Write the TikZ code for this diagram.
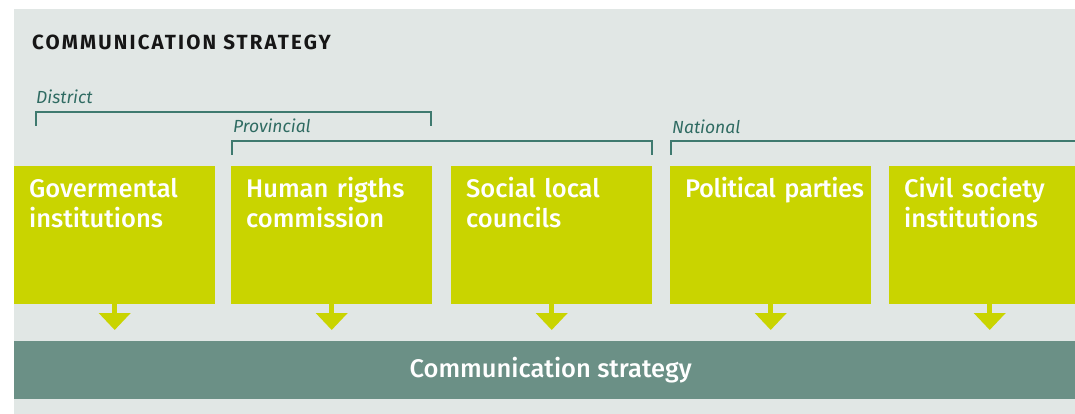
\documentclass[tikz,border=0pt]{standalone}
\usepackage{fontspec}
\setmainfont{Fira Sans}
\newfontfamily\mediumfont{Fira Sans Medium}
\usetikzlibrary{arrows.meta}

\definecolor{panel}{HTML}{E1E7E5}
\definecolor{lime}{HTML}{C9D400}
\definecolor{sage}{HTML}{6B9086}
\definecolor{rule}{HTML}{3F7A6F}
\definecolor{levelText}{HTML}{2F6B62}
\definecolor{titleText}{HTML}{161616}

\begin{document}
\begin{tikzpicture}[x=1pt, y=-1pt,
  heading/.style={anchor=base west, inner sep=0pt, text=titleText,
    font=\fontsize{20.5}{22}\selectfont\bfseries\addfontfeature{LetterSpace=10.5}},
  level/.style={anchor=base west, inner sep=0pt, text=levelText,
    font=\fontsize{17.5}{19}\selectfont\itshape},
  bracket/.style={draw=rule, line width=1.5pt},
  unit/.style={anchor=north west, fill=lime, text=white,
    text width=171pt, align=left, inner xsep=15pt, inner ysep=13pt,
    text height=18pt, text depth=94pt,
    font=\mediumfont\fontsize{25.5}{30}\selectfont},
  strategy/.style={anchor=north west, fill=sage, text=white,
    minimum width=1073pt, minimum height=58pt, inner sep=0pt,
    font=\mediumfont\fontsize{25.5}{30}\selectfont},
  flow/.style={draw=lime, line width=5pt, shorten >=11pt,
    -{Triangle[length=17pt, width=31pt]}}
]
  % page and panel
  \clip (0,0) rectangle (1075,414);
  \fill[white] (0,0) rectangle (1075,414);
  \fill[panel] (14,9) rectangle (1100,414);

  % heading
  \node[heading] (title) at (32,50) {COMMUNICATION STRATEGY};

  % levels with their brackets
  \node[level] (district) at (36,104) {District};
  \node[level] (provincial) at (233,133) {Provincial};
  \node[level] (national) at (672,134) {National};
  \draw[bracket] (36,126) |- (431,112) -- (431,126);
  \draw[bracket] (232,155) |- (652,141) -- (652,155);
  \draw[bracket] (671,155) |- (1100,141);

  % actors
  \node[unit] (gov) at (14,166) {Govermental\\institutions};
  \node[unit] (hrc) at (231,166) {Human rigths\\commission};
  \node[unit] (slc) at (451,166) {Social local\\councils};
  \node[unit] (pp)  at (670,166)
    {\mbox{\addfontfeature{LetterSpace=-1.5}Political parties}};
  \node[unit] (csi) at (889,166) {Civil society\\institutions};

  % common strategy bar
  \node[strategy] (strat) at (14,341) {Communication strategy};

  % feeds into the strategy
  \foreach \b in {gov,hrc,slc,pp,csi}
    \draw[flow] (\b.south) -- (\b.south |- strat.north);
\end{tikzpicture}
\end{document}
